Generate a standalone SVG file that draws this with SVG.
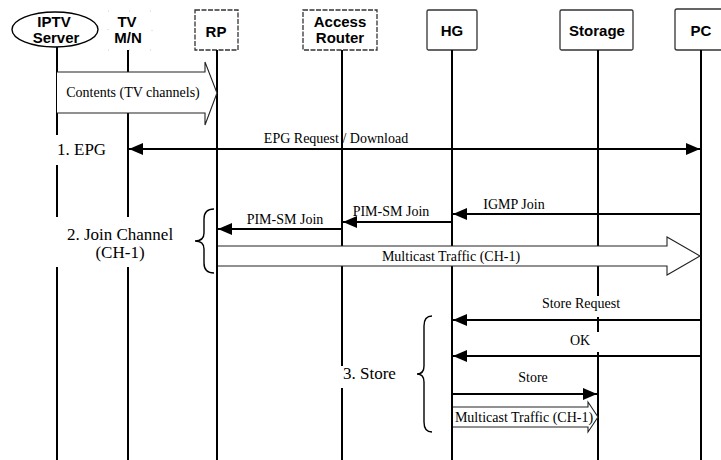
<svg xmlns="http://www.w3.org/2000/svg" width="721" height="460" viewBox="0 0 721 460">
<style>
.box{fill:#fff;stroke:#333;stroke-width:1.3;stroke-dasharray:5 1.5}
.box2{fill:#fff;stroke:#333;stroke-width:1.3}
.hd{font-family:"Liberation Sans",Arial,sans-serif;font-weight:bold;font-size:15px;text-anchor:middle;fill:#000}
.ll{stroke:#000;stroke-width:2;fill:none}
.msg{stroke:#000;stroke-width:2;fill:none}
.lbl{font-family:"Liberation Serif","Times New Roman",serif;font-size:14px;text-anchor:middle;fill:#000}
.sec{font-family:"Liberation Serif","Times New Roman",serif;font-size:17px;fill:#000}
.big{fill:#fff;stroke:#222;stroke-width:1.1}
.brace{fill:none;stroke:#000;stroke-width:1.4}
</style>
<defs>
<marker id="ah" viewBox="0 0 14 12" refX="14" refY="6" markerWidth="14" markerHeight="12" markerUnits="userSpaceOnUse" orient="auto-start-reverse">
<path d="M0,0 L14,6 L0,12 Z" fill="#000"/>
</marker>
</defs>
<rect width="721" height="460" fill="#fff"/>

<g id="iptv">
<ellipse cx="55" cy="29.5" rx="43" ry="17.5" fill="#fff" stroke="#000" stroke-width="1.4"/>
<text class="hd" x="54" y="27">IPTV</text>
<text class="hd" x="56" y="43">Server</text>
<path class="ll" d="M57,47 V135 M57,165 V217 M57,267 V460"/>
</g>
<g id="tvmn">
<rect x="108" y="11" width="44" height="39" fill="none" stroke="#ccc" stroke-width="1" stroke-dasharray="1 20"/>
<text class="hd" x="127" y="27">TV</text>
<text class="hd" x="128" y="43">M/N</text>
<path class="ll" d="M128,50 V217 M128,267 V460"/>
</g>
<g id="rp">
<rect class="box" x="195" y="10" width="43" height="40"/>
<text class="hd" x="216" y="37">RP</text>
<path class="ll" d="M217,50 V460"/>
</g>
<g id="access-router">
<rect class="box" x="303" y="10" width="74" height="40"/>
<text class="hd" x="340" y="27">Access</text>
<text class="hd" x="340" y="43">Router</text>
<path class="ll" d="M342,50 V366 M342,388 V460"/>
</g>
<g id="hg">
<rect class="box2" x="427" y="10" width="50" height="40" rx="1.5"/>
<text class="hd" x="452" y="36">HG</text>
<path class="ll" d="M452,50 V460"/>
</g>
<g id="storage">
<rect class="box2" x="560" y="10" width="73" height="40" rx="1.5"/>
<text class="hd" x="597" y="36">Storage</text>
<path class="ll" d="M598,50 V296 M598,317 V332 M598,352 V460"/>
</g>
<g id="pc">
<rect class="box2" x="675" y="9" width="52" height="41" rx="2"/>
<text class="hd" x="701" y="36">PC</text>
<path class="ll" d="M701,50 V460"/>
</g>

<g id="connectors">
<path class="big" d="M57,72 L205,72 L205,62 L217,93 L205,125 L205,113 L57,113"/>
<text class="lbl" x="133" y="97">Contents (TV channels)</text>

<line class="msg" x1="129" y1="149" x2="700" y2="149" marker-start="url(#ah)" marker-end="url(#ah)"/>
<text class="lbl" x="336" y="143">EPG Request / Download</text>

<line class="msg" x1="700" y1="214" x2="453" y2="214" marker-end="url(#ah)"/>
<text class="lbl" x="514" y="209">IGMP Join</text>
<line class="msg" x1="452" y1="222" x2="343" y2="222" marker-end="url(#ah)"/>
<text class="lbl" x="391" y="216">PIM-SM Join</text>
<line class="msg" x1="342" y1="229" x2="218" y2="229" marker-end="url(#ah)"/>
<text class="lbl" x="285" y="224">PIM-SM Join</text>

<path class="big" d="M218,246 L667,246 L667,237 L700,256 L667,275 L667,266 L218,266"/>
<text class="lbl" x="451" y="261">Multicast Traffic (CH-1)</text>

<line class="msg" x1="700" y1="320" x2="453" y2="320" marker-end="url(#ah)"/>
<text class="lbl" x="581" y="308">Store Request</text>
<line class="msg" x1="700" y1="356" x2="453" y2="356" marker-end="url(#ah)"/>
<text class="lbl" x="580" y="345">OK</text>
<line class="msg" x1="453" y1="394" x2="597" y2="394" marker-end="url(#ah)"/>
<text class="lbl" x="533" y="382">Store</text>

<path class="big" d="M453,407 L588,407 L588,402 L598,417 L588,432 L588,427 L453,427"/>
<text class="lbl" x="524" y="422">Multicast Traffic (CH-1)</text>

<path class="brace" d="M214,209 Q204,209 204,219 L204,233 Q204,241 195,241 Q204,241 204,249 L204,263 Q204,273 214,273"/>
<path class="brace" d="M432,316 Q424,316 424,326 L424,366 Q424,374 417,374 Q424,374 424,382 L424,422 Q424,432 432,432"/>
</g>

<g id="sections">
<text class="sec" x="57" y="155">1. EPG</text>
<text class="sec" x="120" y="240" text-anchor="middle">2. Join Channel</text>
<text class="sec" x="120" y="258" text-anchor="middle">(CH-1)</text>
<text class="sec" x="343" y="379">3. Store</text>
</g>
</svg>
